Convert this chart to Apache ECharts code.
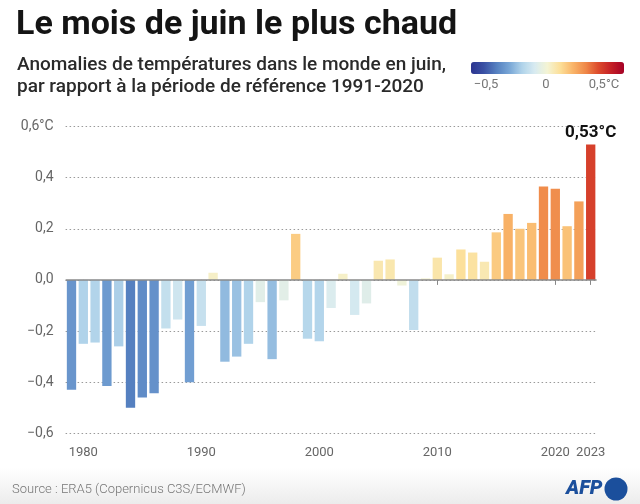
<!DOCTYPE html>
<html><head><meta charset="utf-8">
<script src="https://cdn.jsdelivr.net/npm/echarts@6/dist/echarts.min.js"></script>
<style>html,body{margin:0;padding:0;background:#fff}#c{width:640px;height:504px}</style>
</head><body><div id="c"></div>
<script>
const years = ['1979','1980','1981','1982','1983','1984','1985','1986','1987','1988','1989','1990','1991','1992','1993','1994','1995','1996','1997','1998','1999','2000','2001','2002','2003','2004','2005','2006','2007','2008','2009','2010','2011','2012','2013','2014','2015','2016','2017','2018','2019','2020','2021','2022','2023'];
const anomalies = [-0.43,-0.25,-0.245,-0.415,-0.26,-0.50,-0.46,-0.443,-0.19,-0.155,-0.40,-0.18,0.028,-0.32,-0.30,-0.25,-0.087,-0.31,-0.08,0.18,-0.23,-0.24,-0.11,0.024,-0.137,-0.092,0.075,0.08,-0.022,-0.196,0.006,0.087,0.022,0.119,0.107,0.071,0.186,0.258,0.20,0.223,0.365,0.357,0.21,0.307,0.53];
const shownYears = ['1980','1990','2000','2010','2020','2023'];
const yTicks = [-0.6,-0.4,-0.2,0,0.2,0.4,0.6];
const rampColors = ['#2c3590','#3a50a4','#5580c0','#78a6d6','#b0d3ea','#d8ebf1','#f4f4d4','#fcdf98','#f9b468','#ef8848','#dc4a2c','#c42026','#a50026'];
const legendLabels = [{t:'\u22120,5',x:486},{t:'0',x:546},{t:'0,5°C',x:604}];
const highlightYear = '2023';

const fmt = v => {
  const s = Math.abs(v).toFixed(1).replace('.', ',');
  const t = (v < -1e-9 ? '\u2212' : '') + s;
  return Math.abs(v - 0.6) < 1e-9 ? t + '°C' : t;
};

const chart = echarts.init(document.getElementById('c'), null, {renderer:'canvas'});
const FONT = 'Roboto, "Noto Sans", sans-serif';
chart.setOption({
  animation: false,
  backgroundColor: '#fff',
  textStyle: {fontFamily: FONT},
  title: [
    {text: 'Le mois de juin le plus chaud', left: 11, top: 3,
     textStyle: {fontFamily: '"Liberation Sans Narrow", "Roboto", sans-serif', fontSize: 34, fontWeight: 'bold', color: '#141414'}},
    {text: 'Anomalies de températures dans le monde en juin,\npar rapport à la période de référence 1991-2020', left: 12, top: 49,
     textStyle: {fontFamily: FONT, fontSize: 19, fontWeight: 500, color: '#2a2a2a', lineHeight: 22}}
  ],
  visualMap: {
    type: 'continuous', orient: 'horizontal', left: 471, top: 62,
    itemWidth: 12, itemHeight: 153, min: -0.75, max: 0.75,
    calculable: false, text: ['', ''], padding: 0, hoverLink: false,
    seriesIndex: 0, inRange: {color: rampColors}
  },
  grid: {left: 65.6, right: 43.4, top: 126.5, bottom: 70.7},
  xAxis: {
    type: 'category', data: years, offset: 8,
    axisLine: {show: false},
    axisTick: {show: true, alignWithLabel: true, length: 5, lineStyle: {color: '#888'},
      interval: (i, v) => shownYears.includes(v)},
    axisLabel: {interval: (i, v) => shownYears.includes(v), color: '#666', fontSize: 13, margin: 5, fontFamily: FONT},
    splitLine: {show: false}
  },
  yAxis: {
    type: 'value', min: -0.6, max: 0.6, interval: 0.2,
    axisLine: {show: false}, axisTick: {show: false},
    axisLabel: {formatter: fmt, color: '#666', fontSize: 14, margin: 12, fontFamily: FONT},
    splitLine: {show: true, lineStyle: {type: [1.5, 2.5], color: '#9a9a9a', width: 1}}
  },
  series: [{
    type: 'bar', barCategoryGap: '21%',
    data: anomalies.map((v, i) => years[i] === highlightYear ? {
      value: v,
      label: {show: true, position: 'top', distance: 3, formatter: () => v.toFixed(2).replace('.', ',') + '°C',
        fontSize: 17, fontWeight: 'bold', color: '#111', fontFamily: FONT}
    } : v),
    markLine: {silent: true, symbol: 'none', label: {show: false},
      lineStyle: {type: 'solid', color: '#8a8a8a', width: 1.5},
      data: [{yAxis: 0}]}
  }],
  graphic: [
    {type: 'rect', left: 0, top: 468, shape: {width: 640, height: 36}, z: -10,
     style: {fill: new echarts.graphic.LinearGradient(0, 0, 0, 1, [{offset: 0, color: '#ffffff'}, {offset: 1, color: '#ececec'}])}},
    {type: 'text', left: 12, top: 483, style: {text: 'Source : ERA5 (Copernicus C3S/ECMWF)', font: '300 13px ' + FONT, fill: '#777'}},
    {type: 'text', left: 566, top: 479, style: {text: 'AFP', font: 'italic 900 20px ' + FONT, fill: '#1b4f9c'}},
    {type: 'circle', shape: {cx: 616, cy: 489, r: 11.5}, style: {fill: '#1b4f9c'}},
    ...legendLabels.map(l => ({type: 'text', x: l.x, y: 85, style: {text: l.t, align: 'center', verticalAlign: 'middle', font: '13px ' + FONT, fill: '#777'}}))
  ]
});
</script></body></html>
